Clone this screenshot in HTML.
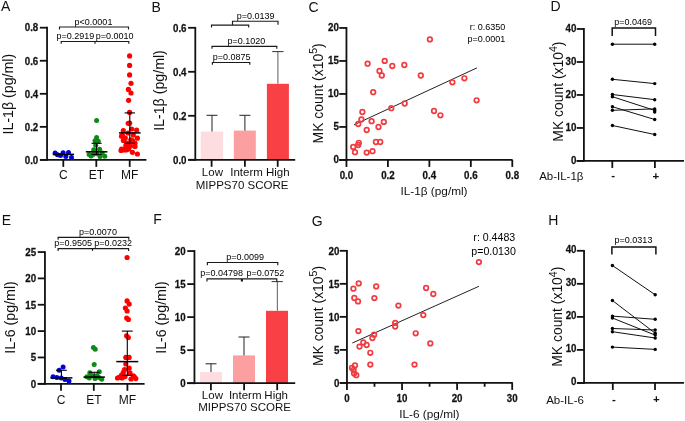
<!DOCTYPE html>
<html><head><meta charset="utf-8"><style>
html,body{margin:0;padding:0;background:#fff;}
svg{display:block;font-family:"Liberation Sans", sans-serif;will-change:transform;}
</style></head><body>
<svg width="685" height="421" viewBox="0 0 685 421">
<rect width="685" height="421" fill="#fff"/>
<text x="1.0" y="11.32" font-size="14" text-anchor="start" fill="#111" >A</text>
<line x1="47.05" y1="26.8" x2="47.05" y2="160.8" stroke="#111" stroke-width="1.8" stroke-linecap="butt"/>
<line x1="39.849999999999994" y1="159.9" x2="47.05" y2="159.9" stroke="#111" stroke-width="1.8" stroke-linecap="butt"/>
<text transform="translate(38.25 163.69) scale(0.92 1)" font-size="10.6" text-anchor="end" font-weight="bold" fill="#111" stroke="#111" stroke-width="0.25">0.0</text>
<line x1="39.849999999999994" y1="126.85" x2="47.05" y2="126.85" stroke="#111" stroke-width="1.8" stroke-linecap="butt"/>
<text transform="translate(38.25 130.64) scale(0.92 1)" font-size="10.6" text-anchor="end" font-weight="bold" fill="#111" stroke="#111" stroke-width="0.25">0.2</text>
<line x1="39.849999999999994" y1="93.8" x2="47.05" y2="93.8" stroke="#111" stroke-width="1.8" stroke-linecap="butt"/>
<text transform="translate(38.25 97.59) scale(0.92 1)" font-size="10.6" text-anchor="end" font-weight="bold" fill="#111" stroke="#111" stroke-width="0.25">0.4</text>
<line x1="39.849999999999994" y1="60.750000000000014" x2="47.05" y2="60.750000000000014" stroke="#111" stroke-width="1.8" stroke-linecap="butt"/>
<text transform="translate(38.25 64.54) scale(0.92 1)" font-size="10.6" text-anchor="end" font-weight="bold" fill="#111" stroke="#111" stroke-width="0.25">0.6</text>
<line x1="39.849999999999994" y1="27.69999999999999" x2="47.05" y2="27.69999999999999" stroke="#111" stroke-width="1.8" stroke-linecap="butt"/>
<text transform="translate(38.25 31.49) scale(0.92 1)" font-size="10.6" text-anchor="end" font-weight="bold" fill="#111" stroke="#111" stroke-width="0.25">0.8</text>
<line x1="40.2" y1="159.9" x2="146.4" y2="159.9" stroke="#111" stroke-width="1.8" stroke-linecap="butt"/>
<line x1="63.3" y1="159.9" x2="63.3" y2="166.9" stroke="#111" stroke-width="1.8" stroke-linecap="butt"/>
<line x1="96.3" y1="159.9" x2="96.3" y2="166.9" stroke="#111" stroke-width="1.8" stroke-linecap="butt"/>
<line x1="129.7" y1="159.9" x2="129.7" y2="166.9" stroke="#111" stroke-width="1.8" stroke-linecap="butt"/>
<text x="63.3" y="178.8" font-size="12" text-anchor="middle" fill="#111" >C</text>
<text x="96.3" y="178.8" font-size="12" text-anchor="middle" fill="#111" >ET</text>
<text x="129.7" y="178.8" font-size="12" text-anchor="middle" fill="#111" >MF</text>
<text x="12.8" y="94.1" font-size="14.2" text-anchor="middle" fill="#111" transform="rotate(-90 12.8 94.1)">IL-1β (pg/ml)</text>
<path d="M59.5 29.4 V27.0 H128.5 V29.4" fill="none" stroke="#1a1a1a" stroke-width="1.15"/>
<text x="93.5" y="24.9" font-size="9" text-anchor="middle" fill="#000" >p&lt;0.0001</text>
<path d="M61.2 43.7 V41.5 H128.8 V43.7" fill="none" stroke="#1a1a1a" stroke-width="1.15"/>
<line x1="95" y1="41.5" x2="95" y2="43.7" stroke="#1a1a1a" stroke-width="1.15" stroke-linecap="butt"/>
<text x="75.3" y="39.3" font-size="9" text-anchor="middle" fill="#000" >p=0.2919</text>
<text x="114.6" y="39.3" font-size="9" text-anchor="middle" fill="#000" >p=0.0010</text>
<circle cx="55.1" cy="153.1" r="2.5" fill="#0000dc"/>
<circle cx="57.5" cy="154.8" r="2.5" fill="#0000dc"/>
<circle cx="60.5" cy="155.4" r="2.5" fill="#0000dc"/>
<circle cx="63.1" cy="152.8" r="2.5" fill="#0000dc"/>
<circle cx="65.8" cy="156.6" r="2.5" fill="#0000dc"/>
<circle cx="68.5" cy="152.5" r="2.5" fill="#0000dc"/>
<circle cx="71.5" cy="157.5" r="2.5" fill="#0000dc"/>
<line x1="52.8" y1="154.4" x2="74.1" y2="154.4" stroke="#000" stroke-width="1.6" stroke-linecap="butt"/>
<circle cx="96.6" cy="120.4" r="2.5" fill="#0b8a16"/>
<circle cx="96.6" cy="137.4" r="2.5" fill="#0b8a16"/>
<circle cx="95" cy="140.7" r="2.5" fill="#0b8a16"/>
<circle cx="98.3" cy="141.3" r="2.5" fill="#0b8a16"/>
<circle cx="95.7" cy="145.2" r="2.5" fill="#0b8a16"/>
<circle cx="93.7" cy="149.8" r="2.5" fill="#0b8a16"/>
<circle cx="99.6" cy="149.2" r="2.5" fill="#0b8a16"/>
<circle cx="89.1" cy="154.4" r="2.5" fill="#0b8a16"/>
<circle cx="93" cy="154.4" r="2.5" fill="#0b8a16"/>
<circle cx="97" cy="153.7" r="2.5" fill="#0b8a16"/>
<circle cx="102.2" cy="153.1" r="2.5" fill="#0b8a16"/>
<circle cx="104.8" cy="156.3" r="2.5" fill="#0b8a16"/>
<circle cx="91" cy="156" r="2.5" fill="#0b8a16"/>
<circle cx="100" cy="156.5" r="2.5" fill="#0b8a16"/>
<line x1="96.6" y1="143.3" x2="96.6" y2="154.4" stroke="#000" stroke-width="1.1" stroke-linecap="butt"/>
<line x1="91.6" y1="143.3" x2="101.6" y2="143.3" stroke="#000" stroke-width="1.1" stroke-linecap="butt"/>
<line x1="91.6" y1="154.4" x2="101.6" y2="154.4" stroke="#000" stroke-width="1.1" stroke-linecap="butt"/>
<line x1="85.8" y1="151.8" x2="107.39999999999999" y2="151.8" stroke="#000" stroke-width="1.5" stroke-linecap="butt"/>
<circle cx="129.6" cy="55.9" r="2.6" fill="#ff0000"/>
<circle cx="129.6" cy="65.4" r="2.6" fill="#ff0000"/>
<circle cx="129.6" cy="74.9" r="2.6" fill="#ff0000"/>
<circle cx="131" cy="83.3" r="2.6" fill="#ff0000"/>
<circle cx="128.4" cy="89.4" r="2.6" fill="#ff0000"/>
<circle cx="131" cy="93" r="2.6" fill="#ff0000"/>
<circle cx="128.6" cy="100.3" r="2.6" fill="#ff0000"/>
<circle cx="129.6" cy="112.4" r="2.6" fill="#ff0000"/>
<circle cx="129.6" cy="123.2" r="2.6" fill="#ff0000"/>
<circle cx="123.3" cy="130.7" r="2.6" fill="#ff0000"/>
<circle cx="131.6" cy="129" r="2.6" fill="#ff0000"/>
<circle cx="136.6" cy="130" r="2.6" fill="#ff0000"/>
<circle cx="122.5" cy="135.7" r="2.6" fill="#ff0000"/>
<circle cx="133.3" cy="134.9" r="2.6" fill="#ff0000"/>
<circle cx="124.1" cy="139" r="2.6" fill="#ff0000"/>
<circle cx="130.8" cy="139.9" r="2.6" fill="#ff0000"/>
<circle cx="137.4" cy="138.2" r="2.6" fill="#ff0000"/>
<circle cx="126.6" cy="143.2" r="2.6" fill="#ff0000"/>
<circle cx="135" cy="143.2" r="2.6" fill="#ff0000"/>
<circle cx="125.8" cy="145.7" r="2.6" fill="#ff0000"/>
<circle cx="135" cy="146.5" r="2.6" fill="#ff0000"/>
<circle cx="121.6" cy="149" r="2.6" fill="#ff0000"/>
<circle cx="126.6" cy="149.8" r="2.6" fill="#ff0000"/>
<circle cx="132.4" cy="152.3" r="2.6" fill="#ff0000"/>
<circle cx="137.4" cy="154" r="2.6" fill="#ff0000"/>
<circle cx="128" cy="133" r="2.6" fill="#ff0000"/>
<circle cx="121" cy="150.5" r="2.6" fill="#ff0000"/>
<circle cx="128.2" cy="123.3" r="2.6" fill="#ff0000"/>
<circle cx="121.5" cy="136.2" r="2.6" fill="#ff0000"/>
<circle cx="125.3" cy="138.1" r="2.6" fill="#ff0000"/>
<circle cx="123.4" cy="140.5" r="2.6" fill="#ff0000"/>
<circle cx="132.5" cy="140.5" r="2.6" fill="#ff0000"/>
<circle cx="127.2" cy="143.8" r="2.6" fill="#ff0000"/>
<circle cx="126.3" cy="147" r="2.6" fill="#ff0000"/>
<circle cx="130.6" cy="146" r="2.6" fill="#ff0000"/>
<circle cx="128.7" cy="149" r="2.6" fill="#ff0000"/>
<circle cx="124.5" cy="150" r="2.6" fill="#ff0000"/>
<line x1="129.8" y1="112.9" x2="129.8" y2="143.2" stroke="#000" stroke-width="1.1" stroke-linecap="butt"/>
<line x1="124.60000000000001" y1="112.9" x2="135.0" y2="112.9" stroke="#000" stroke-width="1.1" stroke-linecap="butt"/>
<line x1="124.60000000000001" y1="143.2" x2="135.0" y2="143.2" stroke="#000" stroke-width="1.1" stroke-linecap="butt"/>
<line x1="119.00000000000001" y1="132.9" x2="140.60000000000002" y2="132.9" stroke="#000" stroke-width="1.5" stroke-linecap="butt"/>
<text x="151.5" y="11.62" font-size="14" text-anchor="start" fill="#111" >B</text>
<line x1="195.3" y1="26.900000000000013" x2="195.3" y2="160.70000000000002" stroke="#111" stroke-width="1.8" stroke-linecap="butt"/>
<line x1="188.10000000000002" y1="159.8" x2="195.3" y2="159.8" stroke="#111" stroke-width="1.8" stroke-linecap="butt"/>
<text transform="translate(186.50 163.59) scale(0.92 1)" font-size="10.6" text-anchor="end" font-weight="bold" fill="#111" stroke="#111" stroke-width="0.25">0.0</text>
<line x1="188.10000000000002" y1="115.80000000000001" x2="195.3" y2="115.80000000000001" stroke="#111" stroke-width="1.8" stroke-linecap="butt"/>
<text transform="translate(186.50 119.59) scale(0.92 1)" font-size="10.6" text-anchor="end" font-weight="bold" fill="#111" stroke="#111" stroke-width="0.25">0.2</text>
<line x1="188.10000000000002" y1="71.80000000000001" x2="195.3" y2="71.80000000000001" stroke="#111" stroke-width="1.8" stroke-linecap="butt"/>
<text transform="translate(186.50 75.59) scale(0.92 1)" font-size="10.6" text-anchor="end" font-weight="bold" fill="#111" stroke="#111" stroke-width="0.25">0.4</text>
<line x1="188.10000000000002" y1="27.80000000000001" x2="195.3" y2="27.80000000000001" stroke="#111" stroke-width="1.8" stroke-linecap="butt"/>
<text transform="translate(186.50 31.59) scale(0.92 1)" font-size="10.6" text-anchor="end" font-weight="bold" fill="#111" stroke="#111" stroke-width="0.25">0.6</text>
<rect x="200.7" y="131.5" width="22.4" height="28.30000000000001" fill="#fedde0"/>
<rect x="233.8" y="130.6" width="22.0" height="29.200000000000017" fill="#fc9fa1"/>
<rect x="266.9" y="83.8" width="22.0" height="76.00000000000001" fill="#f94044"/>
<line x1="212" y1="115.3" x2="212" y2="131.5" stroke="#222" stroke-width="1.0" stroke-linecap="butt"/>
<line x1="206.5" y1="115.3" x2="217.5" y2="115.3" stroke="#222" stroke-width="1.0" stroke-linecap="butt"/>
<line x1="244.9" y1="115.3" x2="244.9" y2="130.6" stroke="#222" stroke-width="1.0" stroke-linecap="butt"/>
<line x1="239.4" y1="115.3" x2="250.4" y2="115.3" stroke="#222" stroke-width="1.0" stroke-linecap="butt"/>
<line x1="277.9" y1="51.6" x2="277.9" y2="83.8" stroke="#777" stroke-width="1.2" stroke-linecap="butt"/>
<line x1="272.2" y1="51.6" x2="283.5" y2="51.6" stroke="#333" stroke-width="1.0" stroke-linecap="butt"/>
<line x1="188.2" y1="159.8" x2="295.2" y2="159.8" stroke="#111" stroke-width="1.8" stroke-linecap="butt"/>
<line x1="211.6" y1="159.8" x2="211.6" y2="166.8" stroke="#111" stroke-width="1.8" stroke-linecap="butt"/>
<line x1="244.9" y1="159.8" x2="244.9" y2="166.8" stroke="#111" stroke-width="1.8" stroke-linecap="butt"/>
<line x1="277.7" y1="159.8" x2="277.7" y2="166.8" stroke="#111" stroke-width="1.8" stroke-linecap="butt"/>
<text x="212.4" y="175.6" font-size="11.5" text-anchor="middle" fill="#111" >Low</text>
<text x="246.5" y="175.6" font-size="11.5" text-anchor="middle" fill="#111" >Interm</text>
<text x="277.8" y="175.6" font-size="11.5" text-anchor="middle" fill="#111" >High</text>
<text x="242.1" y="189.2" font-size="11.5" text-anchor="middle" fill="#111" >MIPPS70 SCORE</text>
<text x="164.3" y="90.5" font-size="14.2" text-anchor="middle" fill="#111" transform="rotate(-90 164.3 90.5)">IL-1β (pg/ml)</text>
<path d="M211.5 27.400000000000002 V25.1 H248.7 V27.400000000000002" fill="none" stroke="#1a1a1a" stroke-width="1.15"/>
<path d="M232.5 25.1 V21.2 H278 V24.8" fill="none" stroke="#1a1a1a" stroke-width="1.15"/>
<text x="255.7" y="18.6" font-size="9" text-anchor="middle" fill="#000" >p=0.0139</text>
<path d="M212 48.699999999999996 V46.4 H276.8 V48.699999999999996" fill="none" stroke="#1a1a1a" stroke-width="1.15"/>
<text x="246.4" y="43.6" font-size="9" text-anchor="middle" fill="#000" >p=0.1020</text>
<path d="M212.4 64.7 V62.5 H249.8 V64.7" fill="none" stroke="#1a1a1a" stroke-width="1.15"/>
<text x="231.6" y="59.8" font-size="9" text-anchor="middle" fill="#000" >p=0.0875</text>
<text x="308.6" y="12.32" font-size="14" text-anchor="start" fill="#111" >C</text>
<line x1="346.45" y1="27.04999999999999" x2="346.45" y2="160.85" stroke="#111" stroke-width="1.8" stroke-linecap="butt"/>
<line x1="339.25" y1="159.95" x2="346.45" y2="159.95" stroke="#111" stroke-width="1.8" stroke-linecap="butt"/>
<text transform="translate(338.95 162.84) scale(0.92 1)" font-size="10.6" text-anchor="end" font-weight="bold" fill="#111" stroke="#111" stroke-width="0.25">0</text>
<line x1="339.25" y1="126.94999999999999" x2="346.45" y2="126.94999999999999" stroke="#111" stroke-width="1.8" stroke-linecap="butt"/>
<text transform="translate(338.95 129.84) scale(0.92 1)" font-size="10.6" text-anchor="end" font-weight="bold" fill="#111" stroke="#111" stroke-width="0.25">5</text>
<line x1="339.25" y1="93.94999999999999" x2="346.45" y2="93.94999999999999" stroke="#111" stroke-width="1.8" stroke-linecap="butt"/>
<text transform="translate(338.95 96.84) scale(0.92 1)" font-size="10.6" text-anchor="end" font-weight="bold" fill="#111" stroke="#111" stroke-width="0.25">10</text>
<line x1="339.25" y1="60.94999999999999" x2="346.45" y2="60.94999999999999" stroke="#111" stroke-width="1.8" stroke-linecap="butt"/>
<text transform="translate(338.95 63.84) scale(0.92 1)" font-size="10.6" text-anchor="end" font-weight="bold" fill="#111" stroke="#111" stroke-width="0.25">15</text>
<line x1="339.25" y1="27.94999999999999" x2="346.45" y2="27.94999999999999" stroke="#111" stroke-width="1.8" stroke-linecap="butt"/>
<text transform="translate(338.95 30.84) scale(0.92 1)" font-size="10.6" text-anchor="end" font-weight="bold" fill="#111" stroke="#111" stroke-width="0.25">20</text>
<line x1="339.1" y1="159.95" x2="512.6" y2="159.95" stroke="#111" stroke-width="1.8" stroke-linecap="butt"/>
<line x1="346.45" y1="159.95" x2="346.45" y2="166.95" stroke="#111" stroke-width="1.8" stroke-linecap="butt"/>
<line x1="387.90999999999997" y1="159.95" x2="387.90999999999997" y2="166.95" stroke="#111" stroke-width="1.8" stroke-linecap="butt"/>
<line x1="429.37" y1="159.95" x2="429.37" y2="166.95" stroke="#111" stroke-width="1.8" stroke-linecap="butt"/>
<line x1="470.83" y1="159.95" x2="470.83" y2="166.95" stroke="#111" stroke-width="1.8" stroke-linecap="butt"/>
<line x1="512.29" y1="159.95" x2="512.29" y2="166.95" stroke="#111" stroke-width="1.8" stroke-linecap="butt"/>
<text transform="translate(346.45 179.20) scale(0.92 1)" font-size="10.6" text-anchor="middle" font-weight="bold" fill="#111" stroke="#111" stroke-width="0.25">0.0</text>
<text transform="translate(387.91 179.20) scale(0.92 1)" font-size="10.6" text-anchor="middle" font-weight="bold" fill="#111" stroke="#111" stroke-width="0.25">0.2</text>
<text transform="translate(429.37 179.20) scale(0.92 1)" font-size="10.6" text-anchor="middle" font-weight="bold" fill="#111" stroke="#111" stroke-width="0.25">0.4</text>
<text transform="translate(470.83 179.20) scale(0.92 1)" font-size="10.6" text-anchor="middle" font-weight="bold" fill="#111" stroke="#111" stroke-width="0.25">0.6</text>
<text transform="translate(512.29 179.20) scale(0.92 1)" font-size="10.6" text-anchor="middle" font-weight="bold" fill="#111" stroke="#111" stroke-width="0.25">0.8</text>
<text x="434.0" y="194.6" font-size="11.8" text-anchor="middle" fill="#111" >IL-1β (pg/ml)</text>
<text x="322.9" y="93.4" font-size="13.9" text-anchor="middle" fill="#111" transform="rotate(-90 322.9 93.4)">MK count (x10<tspan dy="-5.5" font-size="10.5">5</tspan><tspan dy="5.5">)</tspan></text>
<text x="505.3" y="30.1" font-size="9" text-anchor="end" fill="#000" >r: 0.6350</text>
<text x="505.3" y="41.8" font-size="9" text-anchor="end" fill="#000" >p=0.0001</text>
<line x1="353.9" y1="124.9" x2="476.9" y2="67.9" stroke="#222" stroke-width="1.0" stroke-linecap="butt"/>
<circle cx="367.6" cy="63.7" r="2.3" fill="none" stroke="#f03c40" stroke-width="1.7"/>
<circle cx="384.7" cy="60.9" r="2.3" fill="none" stroke="#f03c40" stroke-width="1.7"/>
<circle cx="392.3" cy="66" r="2.3" fill="none" stroke="#f03c40" stroke-width="1.7"/>
<circle cx="379.5" cy="71" r="2.3" fill="none" stroke="#f03c40" stroke-width="1.7"/>
<circle cx="381.8" cy="75.5" r="2.3" fill="none" stroke="#f03c40" stroke-width="1.7"/>
<circle cx="404.3" cy="65" r="2.3" fill="none" stroke="#f03c40" stroke-width="1.7"/>
<circle cx="420.8" cy="75.5" r="2.3" fill="none" stroke="#f03c40" stroke-width="1.7"/>
<circle cx="429.9" cy="39.4" r="2.3" fill="none" stroke="#f03c40" stroke-width="1.7"/>
<circle cx="373.2" cy="92.2" r="2.3" fill="none" stroke="#f03c40" stroke-width="1.7"/>
<circle cx="362.4" cy="112" r="2.3" fill="none" stroke="#f03c40" stroke-width="1.7"/>
<circle cx="391.3" cy="108.2" r="2.3" fill="none" stroke="#f03c40" stroke-width="1.7"/>
<circle cx="404.7" cy="103.5" r="2.3" fill="none" stroke="#f03c40" stroke-width="1.7"/>
<circle cx="434" cy="111" r="2.3" fill="none" stroke="#f03c40" stroke-width="1.7"/>
<circle cx="361.4" cy="119.5" r="2.3" fill="none" stroke="#f03c40" stroke-width="1.7"/>
<circle cx="358.2" cy="124" r="2.3" fill="none" stroke="#f03c40" stroke-width="1.7"/>
<circle cx="371.6" cy="121.2" r="2.3" fill="none" stroke="#f03c40" stroke-width="1.7"/>
<circle cx="383.8" cy="121.9" r="2.3" fill="none" stroke="#f03c40" stroke-width="1.7"/>
<circle cx="378.5" cy="127" r="2.3" fill="none" stroke="#f03c40" stroke-width="1.7"/>
<circle cx="366.7" cy="130" r="2.3" fill="none" stroke="#f03c40" stroke-width="1.7"/>
<circle cx="358.8" cy="142.8" r="2.3" fill="none" stroke="#f03c40" stroke-width="1.7"/>
<circle cx="358.2" cy="145" r="2.3" fill="none" stroke="#f03c40" stroke-width="1.7"/>
<circle cx="353.2" cy="146.9" r="2.3" fill="none" stroke="#f03c40" stroke-width="1.7"/>
<circle cx="355" cy="152.2" r="2.3" fill="none" stroke="#f03c40" stroke-width="1.7"/>
<circle cx="375.9" cy="142" r="2.3" fill="none" stroke="#f03c40" stroke-width="1.7"/>
<circle cx="380.2" cy="142" r="2.3" fill="none" stroke="#f03c40" stroke-width="1.7"/>
<circle cx="366.7" cy="152.6" r="2.3" fill="none" stroke="#f03c40" stroke-width="1.7"/>
<circle cx="372.5" cy="151.2" r="2.3" fill="none" stroke="#f03c40" stroke-width="1.7"/>
<circle cx="440.4" cy="115.3" r="2.3" fill="none" stroke="#f03c40" stroke-width="1.7"/>
<circle cx="452.4" cy="82.3" r="2.3" fill="none" stroke="#f03c40" stroke-width="1.7"/>
<circle cx="464.4" cy="78.3" r="2.3" fill="none" stroke="#f03c40" stroke-width="1.7"/>
<circle cx="476.6" cy="100.3" r="2.3" fill="none" stroke="#f03c40" stroke-width="1.7"/>
<text x="550.4" y="11.32" font-size="14" text-anchor="start" fill="#111" >D</text>
<line x1="583.9" y1="28.089999999999982" x2="583.9" y2="161.85" stroke="#111" stroke-width="1.8" stroke-linecap="butt"/>
<line x1="576.6999999999999" y1="160.95" x2="583.9" y2="160.95" stroke="#111" stroke-width="1.8" stroke-linecap="butt"/>
<text transform="translate(576.40 163.84) scale(0.92 1)" font-size="10.6" text-anchor="end" font-weight="bold" fill="#111" stroke="#111" stroke-width="0.25">0</text>
<line x1="576.6999999999999" y1="127.95999999999998" x2="583.9" y2="127.95999999999998" stroke="#111" stroke-width="1.8" stroke-linecap="butt"/>
<text transform="translate(576.40 130.85) scale(0.92 1)" font-size="10.6" text-anchor="end" font-weight="bold" fill="#111" stroke="#111" stroke-width="0.25">10</text>
<line x1="576.6999999999999" y1="94.96999999999998" x2="583.9" y2="94.96999999999998" stroke="#111" stroke-width="1.8" stroke-linecap="butt"/>
<text transform="translate(576.40 97.86) scale(0.92 1)" font-size="10.6" text-anchor="end" font-weight="bold" fill="#111" stroke="#111" stroke-width="0.25">20</text>
<line x1="576.6999999999999" y1="61.97999999999999" x2="583.9" y2="61.97999999999999" stroke="#111" stroke-width="1.8" stroke-linecap="butt"/>
<text transform="translate(576.40 64.87) scale(0.92 1)" font-size="10.6" text-anchor="end" font-weight="bold" fill="#111" stroke="#111" stroke-width="0.25">30</text>
<line x1="576.6999999999999" y1="28.98999999999998" x2="583.9" y2="28.98999999999998" stroke="#111" stroke-width="1.8" stroke-linecap="butt"/>
<text transform="translate(576.40 31.88) scale(0.92 1)" font-size="10.6" text-anchor="end" font-weight="bold" fill="#111" stroke="#111" stroke-width="0.25">40</text>
<line x1="576.7" y1="160.95" x2="684" y2="160.95" stroke="#111" stroke-width="1.8" stroke-linecap="butt"/>
<line x1="612.3" y1="160.95" x2="612.3" y2="167.95" stroke="#111" stroke-width="1.8" stroke-linecap="butt"/>
<line x1="654.9" y1="160.95" x2="654.9" y2="167.95" stroke="#111" stroke-width="1.8" stroke-linecap="butt"/>
<text x="561.3" y="179.8" font-size="11.5" text-anchor="middle" fill="#111" >Ab-IL-1β</text>
<text x="613.2" y="179.4" font-size="11.5" text-anchor="middle" font-weight="bold" fill="#111" >-</text>
<text x="655.9" y="179.8" font-size="11.5" text-anchor="middle" font-weight="bold" fill="#111" >+</text>
<text x="562.8" y="91.6" font-size="13.9" text-anchor="middle" fill="#111" transform="rotate(-90 562.8 91.6)">MK count (x10<tspan dy="-5.5" font-size="10.5">4</tspan><tspan dy="5.5">)</tspan></text>
<path d="M612.2 36.0 V28.0 H655.5 V36.0" fill="none" stroke="#111" stroke-width="1.5"/>
<text x="633.2" y="25.4" font-size="9" text-anchor="middle" fill="#000" >p=0.0469</text>
<line x1="612.4" y1="44.2" x2="654.7" y2="44.2" stroke="#111" stroke-width="1.0" stroke-linecap="butt"/>
<circle cx="612.4" cy="44.2" r="1.7" fill="#000"/>
<circle cx="654.7" cy="44.2" r="1.7" fill="#000"/>
<line x1="612.4" y1="79.3" x2="654.7" y2="83.6" stroke="#111" stroke-width="1.0" stroke-linecap="butt"/>
<circle cx="612.4" cy="79.3" r="1.7" fill="#000"/>
<circle cx="654.7" cy="83.6" r="1.7" fill="#000"/>
<line x1="612.4" y1="94.5" x2="654.7" y2="99.7" stroke="#111" stroke-width="1.0" stroke-linecap="butt"/>
<circle cx="612.4" cy="94.5" r="1.7" fill="#000"/>
<circle cx="654.7" cy="99.7" r="1.7" fill="#000"/>
<line x1="612.4" y1="96.7" x2="654.7" y2="110.4" stroke="#111" stroke-width="1.0" stroke-linecap="butt"/>
<circle cx="612.4" cy="96.7" r="1.7" fill="#000"/>
<circle cx="654.7" cy="110.4" r="1.7" fill="#000"/>
<line x1="612.4" y1="106.7" x2="654.7" y2="119.5" stroke="#111" stroke-width="1.0" stroke-linecap="butt"/>
<circle cx="612.4" cy="106.7" r="1.7" fill="#000"/>
<circle cx="654.7" cy="119.5" r="1.7" fill="#000"/>
<line x1="612.4" y1="110.3" x2="654.7" y2="108.9" stroke="#111" stroke-width="1.0" stroke-linecap="butt"/>
<circle cx="612.4" cy="110.3" r="1.7" fill="#000"/>
<circle cx="654.7" cy="108.9" r="1.7" fill="#000"/>
<line x1="612.4" y1="125.5" x2="654.7" y2="134.5" stroke="#111" stroke-width="1.0" stroke-linecap="butt"/>
<circle cx="612.4" cy="125.5" r="1.7" fill="#000"/>
<circle cx="654.7" cy="134.5" r="1.7" fill="#000"/>
<circle cx="654.7" cy="112.1" r="1.7" fill="#000"/>
<text x="1.7" y="225.02" font-size="14" text-anchor="start" fill="#111" >E</text>
<line x1="44.95" y1="251.15" x2="44.95" y2="384.7" stroke="#111" stroke-width="1.8" stroke-linecap="butt"/>
<line x1="37.75" y1="383.8" x2="44.95" y2="383.8" stroke="#111" stroke-width="1.8" stroke-linecap="butt"/>
<text transform="translate(36.15 387.59) scale(0.92 1)" font-size="10.6" text-anchor="end" font-weight="bold" fill="#111" stroke="#111" stroke-width="0.25">0</text>
<line x1="37.75" y1="357.45" x2="44.95" y2="357.45" stroke="#111" stroke-width="1.8" stroke-linecap="butt"/>
<text transform="translate(36.15 361.24) scale(0.92 1)" font-size="10.6" text-anchor="end" font-weight="bold" fill="#111" stroke="#111" stroke-width="0.25">5</text>
<line x1="37.75" y1="331.1" x2="44.95" y2="331.1" stroke="#111" stroke-width="1.8" stroke-linecap="butt"/>
<text transform="translate(36.15 334.89) scale(0.92 1)" font-size="10.6" text-anchor="end" font-weight="bold" fill="#111" stroke="#111" stroke-width="0.25">10</text>
<line x1="37.75" y1="304.75" x2="44.95" y2="304.75" stroke="#111" stroke-width="1.8" stroke-linecap="butt"/>
<text transform="translate(36.15 308.54) scale(0.92 1)" font-size="10.6" text-anchor="end" font-weight="bold" fill="#111" stroke="#111" stroke-width="0.25">15</text>
<line x1="37.75" y1="278.40000000000003" x2="44.95" y2="278.40000000000003" stroke="#111" stroke-width="1.8" stroke-linecap="butt"/>
<text transform="translate(36.15 282.19) scale(0.92 1)" font-size="10.6" text-anchor="end" font-weight="bold" fill="#111" stroke="#111" stroke-width="0.25">20</text>
<line x1="37.75" y1="252.05" x2="44.95" y2="252.05" stroke="#111" stroke-width="1.8" stroke-linecap="butt"/>
<text transform="translate(36.15 255.84) scale(0.92 1)" font-size="10.6" text-anchor="end" font-weight="bold" fill="#111" stroke="#111" stroke-width="0.25">25</text>
<line x1="37.7" y1="383.8" x2="144.6" y2="383.8" stroke="#111" stroke-width="1.8" stroke-linecap="butt"/>
<line x1="61.0" y1="383.8" x2="61.0" y2="390.8" stroke="#111" stroke-width="1.8" stroke-linecap="butt"/>
<line x1="93.8" y1="383.8" x2="93.8" y2="390.8" stroke="#111" stroke-width="1.8" stroke-linecap="butt"/>
<line x1="127.4" y1="383.8" x2="127.4" y2="390.8" stroke="#111" stroke-width="1.8" stroke-linecap="butt"/>
<text x="61.0" y="403.5" font-size="12" text-anchor="middle" fill="#111" >C</text>
<text x="93.8" y="403.5" font-size="12" text-anchor="middle" fill="#111" >ET</text>
<text x="127.4" y="403.5" font-size="12" text-anchor="middle" fill="#111" >MF</text>
<text x="15.0" y="317.5" font-size="14.2" text-anchor="middle" fill="#111" transform="rotate(-90 15.0 317.5)">IL-6 (pg/ml)</text>
<path d="M58.1 239.70000000000002 V237.3 H128.8 V239.70000000000002" fill="none" stroke="#1a1a1a" stroke-width="1.15"/>
<text x="98.0" y="235.1" font-size="9" text-anchor="middle" fill="#000" >p=0.0070</text>
<path d="M58.1 250.9 V248.6 H128.6 V250.9" fill="none" stroke="#1a1a1a" stroke-width="1.15"/>
<line x1="92.5" y1="248.6" x2="92.5" y2="250.9" stroke="#1a1a1a" stroke-width="1.15" stroke-linecap="butt"/>
<text x="73.2" y="246.3" font-size="9" text-anchor="middle" fill="#000" >p=0.9505</text>
<text x="113.1" y="246.3" font-size="9" text-anchor="middle" fill="#000" >p=0.0232</text>
<circle cx="63.1" cy="366.9" r="2.5" fill="#0000dc"/>
<circle cx="59.1" cy="370.2" r="2.5" fill="#0000dc"/>
<circle cx="53.1" cy="376.8" r="2.5" fill="#0000dc"/>
<circle cx="56.9" cy="377.6" r="2.5" fill="#0000dc"/>
<circle cx="61.2" cy="378.1" r="2.5" fill="#0000dc"/>
<circle cx="65" cy="379.5" r="2.5" fill="#0000dc"/>
<circle cx="69" cy="380.9" r="2.5" fill="#0000dc"/>
<line x1="61.4" y1="370.3" x2="61.4" y2="377.9" stroke="#000" stroke-width="1.1" stroke-linecap="butt"/>
<line x1="56.0" y1="370.3" x2="66.8" y2="370.3" stroke="#000" stroke-width="1.1" stroke-linecap="butt"/>
<line x1="56.0" y1="377.9" x2="66.8" y2="377.9" stroke="#000" stroke-width="1.1" stroke-linecap="butt"/>
<line x1="50.4" y1="377.9" x2="72.4" y2="377.9" stroke="#000" stroke-width="1.5" stroke-linecap="butt"/>
<circle cx="93.4" cy="347.4" r="2.5" fill="#0b8a16"/>
<circle cx="95.2" cy="349.3" r="2.5" fill="#0b8a16"/>
<circle cx="94.2" cy="364.6" r="2.5" fill="#0b8a16"/>
<circle cx="89.8" cy="372.7" r="2.5" fill="#0b8a16"/>
<circle cx="99.3" cy="371.8" r="2.5" fill="#0b8a16"/>
<circle cx="86.9" cy="376.8" r="2.5" fill="#0b8a16"/>
<circle cx="91.6" cy="375.6" r="2.5" fill="#0b8a16"/>
<circle cx="97" cy="375.6" r="2.5" fill="#0b8a16"/>
<circle cx="101.7" cy="379.2" r="2.5" fill="#0b8a16"/>
<circle cx="89.3" cy="378" r="2.5" fill="#0b8a16"/>
<circle cx="95" cy="378.5" r="2.5" fill="#0b8a16"/>
<circle cx="99" cy="377.5" r="2.5" fill="#0b8a16"/>
<line x1="94.2" y1="372.3" x2="94.2" y2="377.1" stroke="#000" stroke-width="1.1" stroke-linecap="butt"/>
<line x1="89.0" y1="372.3" x2="99.4" y2="372.3" stroke="#000" stroke-width="1.1" stroke-linecap="butt"/>
<line x1="89.0" y1="377.1" x2="99.4" y2="377.1" stroke="#000" stroke-width="1.1" stroke-linecap="butt"/>
<line x1="83.5" y1="377.1" x2="104.9" y2="377.1" stroke="#000" stroke-width="1.5" stroke-linecap="butt"/>
<circle cx="127.1" cy="257.5" r="2.6" fill="#ff0000"/>
<circle cx="127.1" cy="300.9" r="2.6" fill="#ff0000"/>
<circle cx="129.2" cy="304.1" r="2.6" fill="#ff0000"/>
<circle cx="125.4" cy="308" r="2.6" fill="#ff0000"/>
<circle cx="127.1" cy="311" r="2.6" fill="#ff0000"/>
<circle cx="126.7" cy="318" r="2.6" fill="#ff0000"/>
<circle cx="128.4" cy="319.5" r="2.6" fill="#ff0000"/>
<circle cx="126.6" cy="335.8" r="2.6" fill="#ff0000"/>
<circle cx="128.3" cy="337.5" r="2.6" fill="#ff0000"/>
<circle cx="125.8" cy="357.4" r="2.6" fill="#ff0000"/>
<circle cx="129.1" cy="357.4" r="2.6" fill="#ff0000"/>
<circle cx="125.8" cy="364" r="2.6" fill="#ff0000"/>
<circle cx="129.1" cy="368.2" r="2.6" fill="#ff0000"/>
<circle cx="123.3" cy="372.4" r="2.6" fill="#ff0000"/>
<circle cx="130" cy="372.9" r="2.6" fill="#ff0000"/>
<circle cx="119.2" cy="377.4" r="2.6" fill="#ff0000"/>
<circle cx="125" cy="376.6" r="2.6" fill="#ff0000"/>
<circle cx="133.3" cy="375.8" r="2.6" fill="#ff0000"/>
<circle cx="135.8" cy="378.6" r="2.6" fill="#ff0000"/>
<circle cx="122" cy="378" r="2.6" fill="#ff0000"/>
<circle cx="131" cy="379" r="2.6" fill="#ff0000"/>
<circle cx="124.5" cy="369.5" r="2.6" fill="#ff0000"/>
<circle cx="121.5" cy="375" r="2.6" fill="#ff0000"/>
<circle cx="134.5" cy="377" r="2.6" fill="#ff0000"/>
<circle cx="117.5" cy="378" r="2.6" fill="#ff0000"/>
<line x1="127.3" y1="331.1" x2="127.3" y2="375.4" stroke="#000" stroke-width="1.1" stroke-linecap="butt"/>
<line x1="121.89999999999999" y1="331.1" x2="132.7" y2="331.1" stroke="#000" stroke-width="1.1" stroke-linecap="butt"/>
<line x1="121.89999999999999" y1="375.4" x2="132.7" y2="375.4" stroke="#000" stroke-width="1.1" stroke-linecap="butt"/>
<line x1="116.3" y1="361.6" x2="138.3" y2="361.6" stroke="#000" stroke-width="1.5" stroke-linecap="butt"/>
<text x="153.3" y="224.22" font-size="14" text-anchor="start" fill="#111" >F</text>
<line x1="194.45" y1="250.14999999999998" x2="194.45" y2="384.09999999999997" stroke="#111" stroke-width="1.8" stroke-linecap="butt"/>
<line x1="187.25" y1="383.2" x2="194.45" y2="383.2" stroke="#111" stroke-width="1.8" stroke-linecap="butt"/>
<text transform="translate(185.65 386.99) scale(0.92 1)" font-size="10.6" text-anchor="end" font-weight="bold" fill="#111" stroke="#111" stroke-width="0.25">0</text>
<line x1="187.25" y1="350.16249999999997" x2="194.45" y2="350.16249999999997" stroke="#111" stroke-width="1.8" stroke-linecap="butt"/>
<text transform="translate(185.65 353.96) scale(0.92 1)" font-size="10.6" text-anchor="end" font-weight="bold" fill="#111" stroke="#111" stroke-width="0.25">5</text>
<line x1="187.25" y1="317.125" x2="194.45" y2="317.125" stroke="#111" stroke-width="1.8" stroke-linecap="butt"/>
<text transform="translate(185.65 320.92) scale(0.92 1)" font-size="10.6" text-anchor="end" font-weight="bold" fill="#111" stroke="#111" stroke-width="0.25">10</text>
<line x1="187.25" y1="284.0875" x2="194.45" y2="284.0875" stroke="#111" stroke-width="1.8" stroke-linecap="butt"/>
<text transform="translate(185.65 287.88) scale(0.92 1)" font-size="10.6" text-anchor="end" font-weight="bold" fill="#111" stroke="#111" stroke-width="0.25">15</text>
<line x1="187.25" y1="251.04999999999998" x2="194.45" y2="251.04999999999998" stroke="#111" stroke-width="1.8" stroke-linecap="butt"/>
<text transform="translate(185.65 254.84) scale(0.92 1)" font-size="10.6" text-anchor="end" font-weight="bold" fill="#111" stroke="#111" stroke-width="0.25">20</text>
<rect x="200" y="372.1" width="21.9" height="11.099999999999966" fill="#fedde0"/>
<rect x="233" y="355.4" width="22" height="27.80000000000001" fill="#fc9fa1"/>
<rect x="266" y="310.8" width="22" height="72.39999999999998" fill="#f94044"/>
<line x1="211" y1="363.8" x2="211" y2="372.1" stroke="#222" stroke-width="1.0" stroke-linecap="butt"/>
<line x1="205.5" y1="363.8" x2="216.5" y2="363.8" stroke="#222" stroke-width="1.0" stroke-linecap="butt"/>
<line x1="244" y1="337" x2="244" y2="355.4" stroke="#222" stroke-width="1.0" stroke-linecap="butt"/>
<line x1="238.5" y1="337" x2="249.5" y2="337" stroke="#222" stroke-width="1.0" stroke-linecap="butt"/>
<line x1="277.4" y1="281.6" x2="277.4" y2="310.8" stroke="#777" stroke-width="1.2" stroke-linecap="butt"/>
<line x1="271.6" y1="281.6" x2="282.8" y2="281.6" stroke="#333" stroke-width="1.0" stroke-linecap="butt"/>
<line x1="187.1" y1="383.2" x2="295.2" y2="383.2" stroke="#111" stroke-width="1.8" stroke-linecap="butt"/>
<line x1="210.9" y1="383.2" x2="210.9" y2="390.2" stroke="#111" stroke-width="1.8" stroke-linecap="butt"/>
<line x1="244.1" y1="383.2" x2="244.1" y2="390.2" stroke="#111" stroke-width="1.8" stroke-linecap="butt"/>
<line x1="277.2" y1="383.2" x2="277.2" y2="390.2" stroke="#111" stroke-width="1.8" stroke-linecap="butt"/>
<text x="212.4" y="399.2" font-size="11.5" text-anchor="middle" fill="#111" >Low</text>
<text x="245.2" y="399.2" font-size="11.5" text-anchor="middle" fill="#111" >Interm</text>
<text x="276.2" y="399.2" font-size="11.5" text-anchor="middle" fill="#111" >High</text>
<text x="244.6" y="411.4" font-size="11.5" text-anchor="middle" fill="#111" >MIPPS70 SCORE</text>
<text x="165.5" y="317.5" font-size="14.2" text-anchor="middle" fill="#111" transform="rotate(-90 165.5 317.5)">IL-6 (pg/ml)</text>
<path d="M207.4 265.3 V262.5 H277.8 V265.3" fill="none" stroke="#1a1a1a" stroke-width="1.15"/>
<text x="245.2" y="260.3" font-size="9" text-anchor="middle" fill="#000" >p=0.0099</text>
<path d="M207.0 281.5 V278.9 H241.4 V281.5" fill="none" stroke="#1a1a1a" stroke-width="1.15"/>
<path d="M242.4 281.5 V278.9 H276.8 V281.5" fill="none" stroke="#1a1a1a" stroke-width="1.15"/>
<text x="221.6" y="276.4" font-size="9" text-anchor="middle" fill="#000" >p=0.04798</text>
<text x="265.3" y="276.4" font-size="9" text-anchor="middle" fill="#000" >p=0.0752</text>
<text x="311.8" y="226.02" font-size="14" text-anchor="start" fill="#111" >G</text>
<line x1="346.95" y1="249.89999999999995" x2="346.95" y2="383.79999999999995" stroke="#111" stroke-width="1.8" stroke-linecap="butt"/>
<line x1="339.75" y1="382.9" x2="346.95" y2="382.9" stroke="#111" stroke-width="1.8" stroke-linecap="butt"/>
<text transform="translate(339.45 387.09) scale(0.92 1)" font-size="10.6" text-anchor="end" font-weight="bold" fill="#111" stroke="#111" stroke-width="0.25">0</text>
<line x1="339.75" y1="349.875" x2="346.95" y2="349.875" stroke="#111" stroke-width="1.8" stroke-linecap="butt"/>
<text transform="translate(339.45 354.07) scale(0.92 1)" font-size="10.6" text-anchor="end" font-weight="bold" fill="#111" stroke="#111" stroke-width="0.25">5</text>
<line x1="339.75" y1="316.84999999999997" x2="346.95" y2="316.84999999999997" stroke="#111" stroke-width="1.8" stroke-linecap="butt"/>
<text transform="translate(339.45 321.04) scale(0.92 1)" font-size="10.6" text-anchor="end" font-weight="bold" fill="#111" stroke="#111" stroke-width="0.25">10</text>
<line x1="339.75" y1="283.825" x2="346.95" y2="283.825" stroke="#111" stroke-width="1.8" stroke-linecap="butt"/>
<text transform="translate(339.45 288.02) scale(0.92 1)" font-size="10.6" text-anchor="end" font-weight="bold" fill="#111" stroke="#111" stroke-width="0.25">15</text>
<line x1="339.75" y1="250.79999999999995" x2="346.95" y2="250.79999999999995" stroke="#111" stroke-width="1.8" stroke-linecap="butt"/>
<text transform="translate(339.45 254.99) scale(0.92 1)" font-size="10.6" text-anchor="end" font-weight="bold" fill="#111" stroke="#111" stroke-width="0.25">20</text>
<line x1="339.8" y1="382.9" x2="512.8" y2="382.9" stroke="#111" stroke-width="1.8" stroke-linecap="butt"/>
<line x1="346.95" y1="382.9" x2="346.95" y2="389.9" stroke="#111" stroke-width="1.8" stroke-linecap="butt"/>
<line x1="402.03" y1="382.9" x2="402.03" y2="389.9" stroke="#111" stroke-width="1.8" stroke-linecap="butt"/>
<line x1="457.11" y1="382.9" x2="457.11" y2="389.9" stroke="#111" stroke-width="1.8" stroke-linecap="butt"/>
<line x1="512.19" y1="382.9" x2="512.19" y2="389.9" stroke="#111" stroke-width="1.8" stroke-linecap="butt"/>
<line x1="374.49" y1="382.9" x2="374.49" y2="386.75" stroke="#111" stroke-width="1.8" stroke-linecap="butt"/>
<line x1="429.57" y1="382.9" x2="429.57" y2="386.75" stroke="#111" stroke-width="1.8" stroke-linecap="butt"/>
<line x1="484.65" y1="382.9" x2="484.65" y2="386.75" stroke="#111" stroke-width="1.8" stroke-linecap="butt"/>
<text transform="translate(346.95 401.90) scale(0.92 1)" font-size="10.6" text-anchor="middle" font-weight="bold" fill="#111" stroke="#111" stroke-width="0.25">0</text>
<text transform="translate(402.03 401.90) scale(0.92 1)" font-size="10.6" text-anchor="middle" font-weight="bold" fill="#111" stroke="#111" stroke-width="0.25">10</text>
<text transform="translate(457.11 401.90) scale(0.92 1)" font-size="10.6" text-anchor="middle" font-weight="bold" fill="#111" stroke="#111" stroke-width="0.25">20</text>
<text transform="translate(512.19 401.90) scale(0.92 1)" font-size="10.6" text-anchor="middle" font-weight="bold" fill="#111" stroke="#111" stroke-width="0.25">30</text>
<text x="429.4" y="417.8" font-size="11.8" text-anchor="middle" fill="#111" >IL-6 (pg/ml)</text>
<text x="322.9" y="316.0" font-size="13.9" text-anchor="middle" fill="#111" transform="rotate(-90 322.9 316.0)">MK count (x10<tspan dy="-5.5" font-size="10.5">5</tspan><tspan dy="5.5">)</tspan></text>
<text x="515.2" y="240.8" font-size="10.6" text-anchor="end" fill="#000" >r: 0.4483</text>
<text x="515.8" y="255.0" font-size="10.6" text-anchor="end" fill="#000" >p=0.0130</text>
<line x1="352.3" y1="343.0" x2="478.9" y2="286.3" stroke="#222" stroke-width="1.0" stroke-linecap="butt"/>
<circle cx="358.7" cy="283.4" r="2.3" fill="none" stroke="#f03c40" stroke-width="1.7"/>
<circle cx="353.4" cy="288.7" r="2.3" fill="none" stroke="#f03c40" stroke-width="1.7"/>
<circle cx="376.2" cy="286.4" r="2.3" fill="none" stroke="#f03c40" stroke-width="1.7"/>
<circle cx="354.3" cy="298" r="2.3" fill="none" stroke="#f03c40" stroke-width="1.7"/>
<circle cx="358" cy="301.4" r="2.3" fill="none" stroke="#f03c40" stroke-width="1.7"/>
<circle cx="374.4" cy="298.1" r="2.3" fill="none" stroke="#f03c40" stroke-width="1.7"/>
<circle cx="398.4" cy="305.6" r="2.3" fill="none" stroke="#f03c40" stroke-width="1.7"/>
<circle cx="395.2" cy="322.9" r="2.3" fill="none" stroke="#f03c40" stroke-width="1.7"/>
<circle cx="395.2" cy="326.5" r="2.3" fill="none" stroke="#f03c40" stroke-width="1.7"/>
<circle cx="358.4" cy="331.1" r="2.3" fill="none" stroke="#f03c40" stroke-width="1.7"/>
<circle cx="374.1" cy="334.7" r="2.3" fill="none" stroke="#f03c40" stroke-width="1.7"/>
<circle cx="372.4" cy="338" r="2.3" fill="none" stroke="#f03c40" stroke-width="1.7"/>
<circle cx="363.3" cy="342.5" r="2.3" fill="none" stroke="#f03c40" stroke-width="1.7"/>
<circle cx="366.6" cy="345" r="2.3" fill="none" stroke="#f03c40" stroke-width="1.7"/>
<circle cx="359.5" cy="346.6" r="2.3" fill="none" stroke="#f03c40" stroke-width="1.7"/>
<circle cx="370.3" cy="352.8" r="2.3" fill="none" stroke="#f03c40" stroke-width="1.7"/>
<circle cx="370.3" cy="364.6" r="2.3" fill="none" stroke="#f03c40" stroke-width="1.7"/>
<circle cx="414.5" cy="364.6" r="2.3" fill="none" stroke="#f03c40" stroke-width="1.7"/>
<circle cx="415.7" cy="333.3" r="2.3" fill="none" stroke="#f03c40" stroke-width="1.7"/>
<circle cx="355" cy="365.4" r="2.3" fill="none" stroke="#f03c40" stroke-width="1.7"/>
<circle cx="352" cy="367.9" r="2.3" fill="none" stroke="#f03c40" stroke-width="1.7"/>
<circle cx="353.6" cy="369.9" r="2.3" fill="none" stroke="#f03c40" stroke-width="1.7"/>
<circle cx="354.1" cy="373.6" r="2.3" fill="none" stroke="#f03c40" stroke-width="1.7"/>
<circle cx="356.3" cy="375.2" r="2.3" fill="none" stroke="#f03c40" stroke-width="1.7"/>
<circle cx="478.9" cy="262.1" r="2.3" fill="none" stroke="#f03c40" stroke-width="1.7"/>
<circle cx="426.1" cy="288" r="2.3" fill="none" stroke="#f03c40" stroke-width="1.7"/>
<circle cx="433.3" cy="294" r="2.3" fill="none" stroke="#f03c40" stroke-width="1.7"/>
<circle cx="423.3" cy="315.1" r="2.3" fill="none" stroke="#f03c40" stroke-width="1.7"/>
<circle cx="430.3" cy="343.4" r="2.3" fill="none" stroke="#f03c40" stroke-width="1.7"/>
<text x="548.2" y="225.32" font-size="14" text-anchor="start" fill="#111" >H</text>
<line x1="584.05" y1="249.89" x2="584.05" y2="383.84999999999997" stroke="#111" stroke-width="1.8" stroke-linecap="butt"/>
<line x1="576.8499999999999" y1="382.95" x2="584.05" y2="382.95" stroke="#111" stroke-width="1.8" stroke-linecap="butt"/>
<text transform="translate(576.55 385.34) scale(0.92 1)" font-size="10.6" text-anchor="end" font-weight="bold" fill="#111" stroke="#111" stroke-width="0.25">0</text>
<line x1="576.8499999999999" y1="349.90999999999997" x2="584.05" y2="349.90999999999997" stroke="#111" stroke-width="1.8" stroke-linecap="butt"/>
<text transform="translate(576.55 352.30) scale(0.92 1)" font-size="10.6" text-anchor="end" font-weight="bold" fill="#111" stroke="#111" stroke-width="0.25">10</text>
<line x1="576.8499999999999" y1="316.87" x2="584.05" y2="316.87" stroke="#111" stroke-width="1.8" stroke-linecap="butt"/>
<text transform="translate(576.55 319.26) scale(0.92 1)" font-size="10.6" text-anchor="end" font-weight="bold" fill="#111" stroke="#111" stroke-width="0.25">20</text>
<line x1="576.8499999999999" y1="283.83" x2="584.05" y2="283.83" stroke="#111" stroke-width="1.8" stroke-linecap="butt"/>
<text transform="translate(576.55 286.22) scale(0.92 1)" font-size="10.6" text-anchor="end" font-weight="bold" fill="#111" stroke="#111" stroke-width="0.25">30</text>
<line x1="576.8499999999999" y1="250.79" x2="584.05" y2="250.79" stroke="#111" stroke-width="1.8" stroke-linecap="butt"/>
<text transform="translate(576.55 253.18) scale(0.92 1)" font-size="10.6" text-anchor="end" font-weight="bold" fill="#111" stroke="#111" stroke-width="0.25">40</text>
<line x1="577.1" y1="382.95" x2="684" y2="382.95" stroke="#111" stroke-width="1.8" stroke-linecap="butt"/>
<line x1="612.8" y1="382.95" x2="612.8" y2="389.95" stroke="#111" stroke-width="1.8" stroke-linecap="butt"/>
<line x1="655.0" y1="382.95" x2="655.0" y2="389.95" stroke="#111" stroke-width="1.8" stroke-linecap="butt"/>
<text x="565.0" y="403.5" font-size="11.5" text-anchor="middle" fill="#111" >Ab-IL-6</text>
<text x="613.9" y="402.6" font-size="11.5" text-anchor="middle" font-weight="bold" fill="#111" >-</text>
<text x="656.3" y="402.9" font-size="11.5" text-anchor="middle" font-weight="bold" fill="#111" >+</text>
<text x="562.4" y="316.7" font-size="13.9" text-anchor="middle" fill="#111" transform="rotate(-90 562.4 316.7)">MK count (x10<tspan dy="-5.5" font-size="10.5">4</tspan><tspan dy="5.5">)</tspan></text>
<path d="M611.9 254.6 V247.1 H655.9 V254.6" fill="none" stroke="#111" stroke-width="1.5"/>
<text x="633.5" y="242.9" font-size="9" text-anchor="middle" fill="#000" >p=0.0313</text>
<line x1="612.4" y1="265.5" x2="655.2" y2="294.8" stroke="#111" stroke-width="1.0" stroke-linecap="butt"/>
<circle cx="612.4" cy="265.5" r="1.7" fill="#000"/>
<circle cx="655.2" cy="294.8" r="1.7" fill="#000"/>
<line x1="612.4" y1="300.5" x2="655.2" y2="333.2" stroke="#111" stroke-width="1.0" stroke-linecap="butt"/>
<circle cx="612.4" cy="300.5" r="1.7" fill="#000"/>
<circle cx="655.2" cy="333.2" r="1.7" fill="#000"/>
<line x1="612.4" y1="316.1" x2="655.2" y2="319.3" stroke="#111" stroke-width="1.0" stroke-linecap="butt"/>
<circle cx="612.4" cy="316.1" r="1.7" fill="#000"/>
<circle cx="655.2" cy="319.3" r="1.7" fill="#000"/>
<line x1="612.4" y1="318" x2="655.2" y2="335.1" stroke="#111" stroke-width="1.0" stroke-linecap="butt"/>
<circle cx="612.4" cy="318" r="1.7" fill="#000"/>
<circle cx="655.2" cy="335.1" r="1.7" fill="#000"/>
<line x1="612.4" y1="328.5" x2="655.2" y2="330" stroke="#111" stroke-width="1.0" stroke-linecap="butt"/>
<circle cx="612.4" cy="328.5" r="1.7" fill="#000"/>
<circle cx="655.2" cy="330" r="1.7" fill="#000"/>
<line x1="612.4" y1="331.7" x2="655.2" y2="338" stroke="#111" stroke-width="1.0" stroke-linecap="butt"/>
<circle cx="612.4" cy="331.7" r="1.7" fill="#000"/>
<circle cx="655.2" cy="338" r="1.7" fill="#000"/>
<line x1="612.4" y1="347.1" x2="655.2" y2="349.4" stroke="#111" stroke-width="1.0" stroke-linecap="butt"/>
<circle cx="612.4" cy="347.1" r="1.7" fill="#000"/>
<circle cx="655.2" cy="349.4" r="1.7" fill="#000"/>
</svg></body></html>
